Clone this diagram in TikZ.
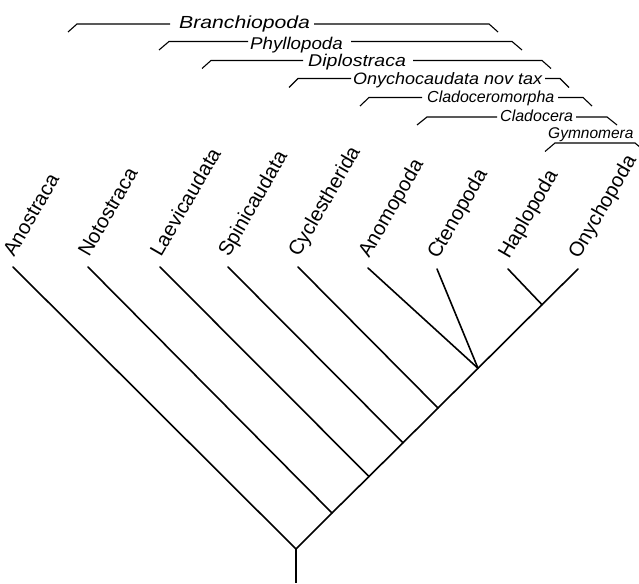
\documentclass[tikz,border=0pt]{standalone}
\usepackage{fontspec}
\setmainfont{Liberation Sans}
\begin{document}
\begin{tikzpicture}[x=1pt,y=1pt,
  branch/.style={line width=1.6pt,line cap=round},
  stem/.style={line width=2.6pt},
  brk/.style={line width=1.1pt},
  taxon/.style={anchor=base west,inner sep=0pt,rotate=60,font=\fontsize{20.3}{22}\selectfont},
  clade/.style={anchor=base west,inner sep=0pt,font=\fontsize{#1}{20}\selectfont\itshape},
  clade/.default=16]
\useasboundingbox (0,0) rectangle (639,583);
% tips
\coordinate (tA) at (13,316);
\coordinate (tN) at (88,316);
\coordinate (tL) at (160,316);
\coordinate (tS) at (228,316);
\coordinate (tCy) at (298,316);
\coordinate (tAn) at (368,315);
\coordinate (tCt) at (437,314);
\coordinate (tH) at (508,314);
\coordinate (tO) at (578,314);
% internal nodes
\coordinate (R) at (296,34);
\coordinate (base) at (296,0);
\coordinate (n1) at (332,70);
\coordinate (n2) at (369,106.5);
\coordinate (n3) at (403,140.2);
\coordinate (n4) at (438,175);
\coordinate (n5) at (478,214.7);
\coordinate (n6) at (542,278.3);
% tree
\draw[stem] (R) -- (base);
\draw[branch] (tA) -- (R) -- (n1) -- (n2) -- (n3) -- (n4) -- (n5) -- (n6) -- (tO);
\draw[branch] (tN) -- (n1);
\draw[branch] (tL) -- (n2);
\draw[branch] (tS) -- (n3);
\draw[branch] (tCy) -- (n4);
\draw[branch] (tAn) -- (n5);
\draw[branch] (tCt) -- (n5);
\draw[branch] (tH) -- (n6);
% taxon labels
\node[taxon] (lA) at (14,325) {Anostraca};
\node[taxon] (lN) at (89,325) {Notostraca};
\node[taxon] (lL) at (161,325) {Laevicaudata};
\node[taxon] (lS) at (229,325) {Spinicaudata};
\node[taxon] (lCy) at (299,325) {Cyclestherida};
\node[taxon] (lAn) at (369,324) {Anomopoda};
\node[taxon] (lCt) at (438,323) {Ctenopoda};
\node[taxon] (lH) at (509,323) {Haplopoda};
\node[taxon] (lO) at (579,323) {Onychopoda};
% clade brackets
\node[clade=17.5,xscale=1.21] (cB) at (179,554.5) {Branchiopoda};
\draw[brk] (68,551) -- (77,559) -- (170,559);
\draw[brk] (314,559) -- (489,559) -- (498,551);
\node[clade=17,xscale=1.1] (cP) at (250,533) {Phyllopoda};
\draw[brk] (159,533) -- (169,541.5) -- (248,541.5);
\draw[brk] (351,541.5) -- (512,541.5) -- (522,533);
\node[clade=17,xscale=1.15] (cD) at (308,516) {Diplostraca};
\draw[brk] (202,514.5) -- (211,522.5) -- (303,522.5);
\draw[brk] (413,522.5) -- (542,522.5) -- (551,514.5);
\node[clade=16.5,xscale=1.09] (cOn) at (353,498.5) {Onychocaudata nov tax};
\draw[brk] (289,495.5) -- (298,504.5) -- (351,504.5);
\draw[brk] (545,504.5) -- (560,504.5) -- (569,495.5);
\node[clade=16] (cCm) at (427,480) {Cladoceromorpha};
\draw[brk] (360,477) -- (369,485.5) -- (422,485.5);
\draw[brk] (558,485.5) -- (583,485.5) -- (592,477);
\node[clade=16] (cC) at (500,461) {Cladocera};
\draw[brk] (417,458) -- (427,466) -- (497,466);
\draw[brk] (576,466) -- (607,466) -- (617,458);
\node[clade=15.5] (cG) at (548,444) {Gymnomera};
\draw[brk] (545,431.5) -- (555,440) -- (635,440) -- (640,435.8);
\end{tikzpicture}
\end{document}
